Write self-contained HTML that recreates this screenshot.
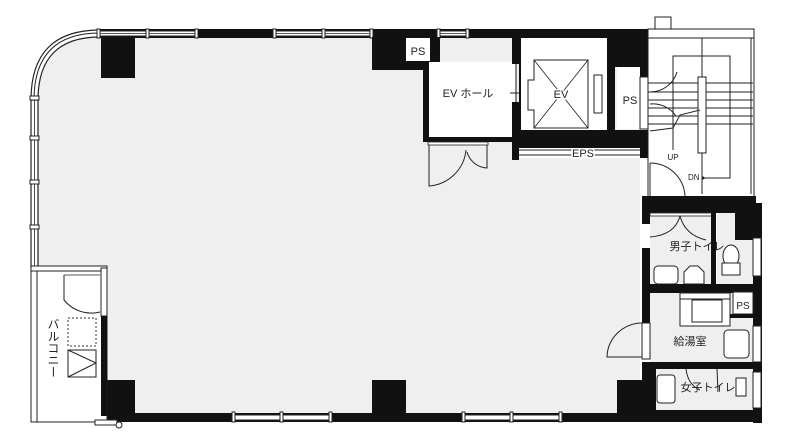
<!DOCTYPE html>
<html><head><meta charset="utf-8"><style>
html,body{margin:0;padding:0;background:#fff;width:787px;height:448px;overflow:hidden}
svg{display:block}
text{font-family:"Liberation Sans","Noto Sans CJK JP",sans-serif;fill:#222}
</style></head><body>
<svg width="787" height="448" viewBox="0 0 787 448" xmlns="http://www.w3.org/2000/svg">
<path d="M100 37 L640 37 L640 414 L105 414 L105 268 L38 268 L38 102 Q38 37 100 37 Z" fill="#efefef"/>
<path d="M100 30 Q31 30 31 100" fill="none" stroke="#222" stroke-width="1.2"/>
<path d="M100 33 Q34 33 34 100" fill="none" stroke="#222" stroke-width="1"/>
<path d="M100 37 Q38 37 38 100" fill="none" stroke="#222" stroke-width="1.2"/>
<rect x="31" y="100" width="7" height="168" fill="#fff" stroke="#222" stroke-width="1.2"/>
<line x1="34.5" y1="100" x2="34.5" y2="268" stroke="#222" stroke-width="0.8"/>
<rect x="30" y="96" width="9" height="4" fill="#fff" stroke="#222"/>
<rect x="30" y="136" width="9" height="4" fill="#fff" stroke="#222"/>
<rect x="30" y="180" width="9" height="4" fill="#fff" stroke="#222"/>
<rect x="30" y="225" width="9" height="4" fill="#fff" stroke="#222"/>
<rect x="98" y="29" width="550" height="9" fill="#111"/>
<g fill="#fff" stroke="#222" stroke-width="1">
<rect x="99" y="31" width="98" height="5"/><rect x="274" y="31" width="98" height="5"/><rect x="438" y="31" width="30" height="5"/>
</g>
<g stroke="#222" stroke-width="0.8"><line x1="99" y1="33.5" x2="197" y2="33.5"/><line x1="274" y1="33.5" x2="372" y2="33.5"/><line x1="438" y1="33.5" x2="468" y2="33.5"/></g>
<g fill="#fff" stroke="#222"><rect x="97" y="29" width="3" height="9"/><rect x="146" y="29" width="3" height="9"/><rect x="195" y="29" width="3" height="9"/><rect x="273" y="29" width="3" height="9"/><rect x="322" y="29" width="3" height="9"/><rect x="370" y="29" width="3" height="9"/><rect x="437" y="29" width="3" height="9"/><rect x="466" y="29" width="3" height="9"/></g>
<rect x="101" y="37" width="34" height="41" fill="#111"/>
<rect x="372" y="37" width="68" height="33" fill="#111"/>
<rect x="406" y="38" width="24" height="23" fill="#fff"/>
<text x="418" y="55" font-size="11" text-anchor="middle">PS</text>
<rect x="101" y="380" width="34" height="42" fill="#111"/>
<rect x="372" y="380" width="34" height="42" fill="#111"/>
<rect x="617" y="380" width="33" height="42" fill="#111"/>
<rect x="101" y="413" width="549" height="9" fill="#111"/>
<g fill="#fff" stroke="#222"><rect x="233" y="415" width="97" height="5"/><rect x="463" y="415" width="97" height="5"/>
<rect x="232" y="412" width="3" height="10"/><rect x="280" y="412" width="3" height="10"/><rect x="329" y="412" width="3" height="10"/><rect x="462" y="412" width="3" height="10"/><rect x="510" y="412" width="3" height="10"/><rect x="559" y="412" width="3" height="10"/></g>
<rect x="31" y="266" width="76" height="156" fill="#fff" stroke="#222"/>
<rect x="31" y="266" width="6" height="156" fill="#fff" stroke="#222"/>
<rect x="31" y="266" width="76" height="5" fill="#fff" stroke="#222"/>
<rect x="101" y="268" width="6" height="48" fill="#fff" stroke="#222"/>
<rect x="101" y="316" width="6" height="100" fill="#111"/>
<path d="M64 275 L64 300 A35 35 0 0 0 100 312" fill="none" stroke="#222"/>
<line x1="64" y1="275" x2="100" y2="275" stroke="#222" stroke-width="0.7"/>
<rect x="68" y="318" width="28" height="28" fill="none" stroke="#333" stroke-dasharray="2,2"/>
<rect x="68" y="350" width="28" height="27" fill="#fff" stroke="#222"/>
<path d="M68 350 L96 363 L68 377" fill="none" stroke="#222"/>
<text x="53" y="318" font-size="12" style="writing-mode:vertical-rl;text-orientation:upright">バルコニー</text>
<rect x="95" y="420" width="22" height="5" fill="#fff" stroke="#222"/>
<circle cx="119" cy="425" r="3" fill="#fff" stroke="#222"/>
<rect x="423" y="62" width="92" height="78" fill="#fff"/>
<rect x="423" y="62" width="6" height="78" fill="#111"/>
<rect x="423" y="137" width="92" height="5" fill="#111"/>
<rect x="512" y="37" width="7" height="27" fill="#111"/>
<rect x="512" y="102" width="7" height="58" fill="#111"/>
<line x1="516" y1="64" x2="516" y2="102" stroke="#222"/>
<line x1="510" y1="93" x2="521" y2="93" stroke="#222"/>
<text x="468" y="97" font-size="11" text-anchor="middle">EV ホール</text>
<rect x="428" y="142" width="60" height="3" fill="#fff" stroke="#222" stroke-width="0.8"/>
<path d="M429 145 L429 186 A40 40 0 0 0 466 150" fill="none" stroke="#222"/>
<path d="M487 145 L487 168 A22 22 0 0 1 467 152" fill="none" stroke="#222"/>
<rect x="519" y="37" width="96" height="95" fill="#111"/>
<rect x="521" y="38" width="86" height="92" fill="#fff"/>
<rect x="519" y="130" width="126" height="18" fill="#111"/>
<path d="M534 60 L588 60 L588 128 L534 128 L534 110 L528 110 L528 80 L534 80 Z" fill="#fff" stroke="#222"/>
<line x1="534" y1="60" x2="588" y2="128" stroke="#222" stroke-width="0.8"/>
<line x1="588" y1="60" x2="534" y2="128" stroke="#222" stroke-width="0.8"/>
<rect x="594" y="75" width="8" height="38" fill="#fff" stroke="#222"/>
<text x="561" y="98" font-size="11" text-anchor="middle" style="paint-order:stroke" stroke="#fff" stroke-width="3">EV</text>
<rect x="617" y="67" width="25" height="62" fill="#fff"/>
<text x="630" y="104" font-size="11" text-anchor="middle">PS</text>
<rect x="608" y="37" width="40" height="30" fill="#111"/>
<rect x="640" y="37" width="8" height="40" fill="#111"/>
<rect x="519" y="148" width="126" height="10" fill="#fff"/>
<line x1="519" y1="150" x2="645" y2="150" stroke="#222"/>
<line x1="519" y1="155" x2="645" y2="155" stroke="#222"/>
<rect x="512" y="148" width="7" height="12" fill="#111"/>
<rect x="640" y="130" width="8" height="28" fill="#111"/>
<text x="583" y="157" font-size="11" text-anchor="middle" style="paint-order:stroke" stroke="#fff" stroke-width="3">EPS</text>
<rect x="648" y="29" width="106" height="170" fill="#fff" stroke="#222"/>
<rect x="655" y="17" width="16" height="12" fill="#fff" stroke="#222"/>
<rect x="640" y="77" width="8" height="52" fill="#fff" stroke="#222"/>
<line x1="702" y1="38" x2="702" y2="194" stroke="#222"/>
<line x1="751" y1="38" x2="751" y2="194" stroke="#222"/>
<line x1="648" y1="38" x2="754" y2="38" stroke="#222"/>
<g stroke="#222"><line x1="648" y1="83" x2="753" y2="83"/><line x1="648" y1="92" x2="753" y2="92"/><line x1="648" y1="100" x2="753" y2="100"/><line x1="648" y1="108" x2="753" y2="108"/><line x1="648" y1="116" x2="753" y2="116"/><line x1="648" y1="124" x2="753" y2="124"/></g>
<polyline points="673,150 673,56 730,56 730,178 703,178" fill="none" stroke="#222"/>
<rect x="698" y="77" width="8" height="76" fill="#fff" stroke="#222"/>
<path d="M650 92 A28 28 0 0 0 677 72" fill="none" stroke="#222"/>
<path d="M650 104 A28 28 0 0 1 676 116" fill="none" stroke="#222"/>
<polyline points="650,131 673,128 680,115 700,110" fill="none" stroke="#222"/>
<text x="673" y="160" font-size="8" text-anchor="middle">UP</text>
<text x="688" y="180" font-size="8">DN</text>
<circle cx="703" cy="178" r="1.5" fill="#222"/>
<path d="M650 163 A35 35 0 0 1 685 196" fill="none" stroke="#222"/>
<line x1="650" y1="163" x2="650" y2="198" stroke="#222"/>
<rect x="642" y="198" width="120" height="227" fill="#fff"/>
<rect x="642" y="196" width="114" height="8" fill="#111"/>
<rect x="642" y="204" width="8" height="20" fill="#111"/>
<rect x="642" y="248" width="8" height="80" fill="#111"/>
<rect x="642" y="362" width="8" height="60" fill="#111"/>
<rect x="650" y="213" width="65" height="72" fill="#efefef"/>
<rect x="717" y="213" width="36" height="72" fill="#efefef"/>
<rect x="642" y="203" width="120" height="10" fill="#111"/>
<rect x="650" y="213" width="62" height="3" fill="#fff" stroke="#222" stroke-width="0.8"/>
<rect x="711" y="213" width="5" height="72" fill="#111"/>
<rect x="735" y="213" width="27" height="27" fill="#111"/>
<rect x="753" y="203" width="9" height="220" fill="#111"/>
<rect x="753" y="238" width="8" height="38" fill="#fff" stroke="#222"/>
<path d="M680 216 Q675 235 650 237" fill="none" stroke="#222"/>
<path d="M680 216 Q685 235 706 240" fill="none" stroke="#222"/>
<text x="697" y="250" font-size="11" text-anchor="middle">男子トイレ</text>
<rect x="654" y="266" width="24" height="18" rx="4" fill="#fff" stroke="#222"/>
<path d="M684 284 L684 272 L690 266 L698 266 L704 272 L704 284 Z" fill="#fff" stroke="#222"/>
<ellipse cx="731" cy="256" rx="8" ry="11" fill="#fff" stroke="#222"/>
<rect x="722" y="263" width="18" height="12" fill="#fff" stroke="#222"/>
<rect x="642" y="284" width="120" height="9" fill="#111"/>
<rect x="650" y="293" width="103" height="70" fill="#efefef"/>
<rect x="680" y="293" width="50" height="33" fill="#fff" stroke="#222"/>
<rect x="692" y="300" width="30" height="22" fill="#fff" stroke="#222"/>
<rect x="680" y="293" width="50" height="6" fill="#fff" stroke="#222"/>
<rect x="733" y="292" width="20" height="22" fill="#fff" stroke="#222"/>
<text x="743" y="309" font-size="10" text-anchor="middle">PS</text>
<rect x="730" y="314" width="25" height="4" fill="#111"/>
<rect x="724" y="330" width="25" height="28" rx="4" fill="#fff" stroke="#222"/>
<rect x="753" y="326" width="8" height="36" fill="#fff" stroke="#222"/>
<text x="690" y="345" font-size="11" text-anchor="middle">給湯室</text>
<path d="M642 323 A35 35 0 0 0 607 357 L650 357" fill="none" stroke="#222"/>
<rect x="642" y="323" width="8" height="36" fill="#fff" stroke="#222"/>
<rect x="642" y="362" width="120" height="7" fill="#111"/>
<rect x="656" y="369" width="97" height="42" fill="#efefef"/>
<rect x="650" y="369" width="6" height="50" fill="#111"/>
<rect x="657" y="375" width="18" height="28" rx="3" fill="#fff" stroke="#222"/>
<rect x="736" y="378" width="10" height="18" fill="#fff" stroke="#222"/>
<rect x="753" y="372" width="8" height="36" fill="#fff" stroke="#222"/>
<text x="708" y="391" font-size="11" text-anchor="middle">女子トイレ</text>
<path d="M686 369 Q688 385 700 390" fill="none" stroke="#222"/>
<line x1="717" y1="369" x2="718" y2="392" stroke="#222"/>
<rect x="642" y="410" width="120" height="12" fill="#111"/>
</svg>
</body></html>
